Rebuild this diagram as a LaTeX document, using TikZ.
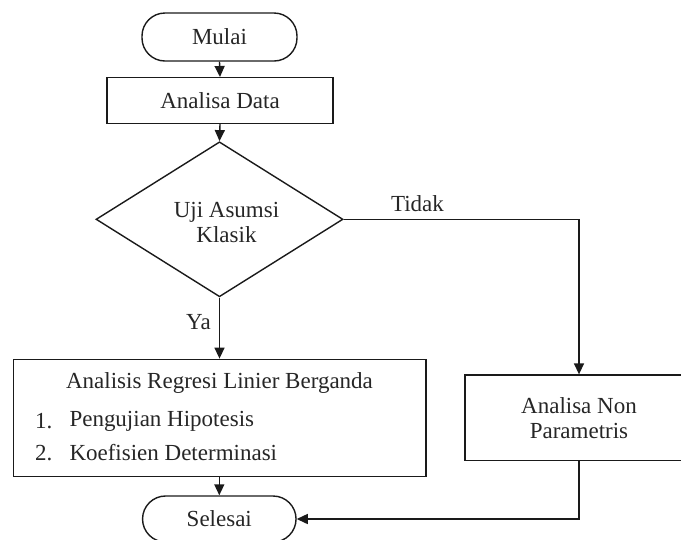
\documentclass[tikz,border=0pt]{standalone}
\usepackage{fontspec}
\setmainfont{Liberation Serif}
\usetikzlibrary{arrows.meta,shapes.geometric}
\definecolor{ink}{HTML}{1A1A1A}
\definecolor{txtc}{HTML}{262626}
\begin{document}
\begin{tikzpicture}[x=1pt,y=1pt,
  every node/.style={font=\fontsize{23}{25}\selectfont, text=txtc},
  box/.style={draw=ink, line width=1.4pt, rectangle, inner sep=0pt},
  term/.style={draw=ink, line width=1.4pt, rectangle, rounded corners=23pt, inner sep=0pt},
  dia/.style={draw=ink, line width=1.4pt, diamond, inner sep=0pt, minimum width=247pt, minimum height=155pt},
  txt/.style={inner sep=0pt, align=center},
  conn/.style={draw=ink, line width=1.4pt, -{Triangle[length=11pt,width=10pt]}},
  line/.style={draw=ink, line width=1.4pt}
]
\useasboundingbox (0,0) rectangle (681,-539);
\begin{scope}
\clip (0,0) rectangle (681,-539);
% nodes
\node[term, minimum width=155pt, minimum height=48pt] (mulai) at (219.5,-37) {Mulai};
\node[box, minimum width=226pt, minimum height=45.6pt] (data) at (220,-100.5) {Analisa Data};
\node[dia] (uji) at (219.5,-219.3) {};
\node[txt] (ujitxt) at (226.5,-222) {Uji Asumsi\\Klasik};
\node[box, minimum width=412.7pt, minimum height=117.4pt] (reg) at (219.7,-418) {};
\node[txt] (regtitle) at (219.5,-383) {Analisis Regresi Linier Berganda};
\node[txt, anchor=west] (n1) at (35,-421) {1.};
\node[txt, anchor=west] (i1) at (69.3,-421) {Pengujian Hipotesis};
\node[txt, anchor=west] (n2) at (35,-452.7) {2.};
\node[txt, anchor=west] (i2) at (69.3,-452.7) {Koefisien Determinasi};
\node[box, minimum width=228pt, minimum height=85.7pt] (non) at (579,-417.9) {};
\node[txt] (nontxt) at (579,-418.5) {Analisa Non\\Parametris};
\node[term, minimum width=153.5pt, minimum height=46pt] (sel) at (219.3,-519) {Selesai};
\node[txt] (ya) at (198.5,-322.5) {Ya};
\node[txt] (tidak) at (417.5,-204) {Tidak};
% connectors
\draw[conn] (mulai.south) -- (data.north);
\draw[conn] (data.south) -- (uji.north);
\draw[conn] (uji.south) -- (reg.north -| uji.south);
\draw[conn] (uji.east) -| (non.north);
\draw[conn] (reg.south -| sel.north) -- (sel.north);
\draw[conn] (non.south) |- (sel.east);
\end{scope}
\end{tikzpicture}
\end{document}
